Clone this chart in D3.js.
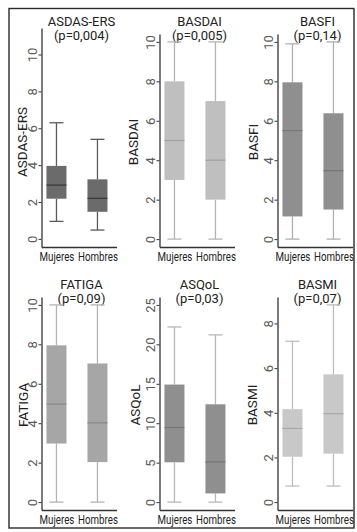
<!DOCTYPE html>
<html>
<head>
<meta charset="utf-8">
<script src="https://cdn.jsdelivr.net/npm/d3@7"></script>
<style>
  html, body { margin: 0; padding: 0; background: #fff; }
  svg { display: block; font-family: Roboto, "Open Sans", sans-serif; }
</style>
</head>
<body>
<svg id="chart" width="357" height="532"></svg>
<script>
// ---- data ----
const groups = ["Mujeres", "Hombres"];
const measures = ["ASDAS-ERS", "BASDAI", "BASFI", "FATIGA", "ASQoL", "BASMI"];
const pValues = ["(p=0,004)", "(p=0,005)", "(p=0,14)", "(p=0,09)", "(p=0,03)", "(p=0,07)"];

// five-number summaries per measure: [min, Q1, median, Q3, max]
const mujeresStats = [
  [0.95, 2.18, 2.92, 3.96, 6.3],
  [0, 3, 5, 8, 10],
  [0, 1.15, 5.5, 7.95, 9.9],
  [0, 2.97, 4.97, 7.95, 10],
  [0, 5.05, 9.45, 14.9, 22.2],
  [0.72, 2.03, 3.3, 4.16, 7.2]
];
const hombresStats = [
  [0.48, 1.47, 2.2, 3.23, 5.4],
  [0, 2, 4, 7, 10],
  [0, 1.5, 3.47, 6.38, 10],
  [0, 2.03, 4.02, 7.03, 10],
  [0, 1.1, 5.1, 12.4, 21.2],
  [0.72, 2.17, 3.96, 5.72, 8.83]
];

const yLimits = [[0, 11], [0, 10], [0, 10], [0, 10], [0, 25], [0, 8.83]];
const yTicks = [
  [0, 2, 4, 6, 8, 10],
  [0, 2, 4, 6, 8, 10],
  [0, 2, 4, 6, 8, 10],
  [0, 2, 4, 6, 8, 10],
  [0, 5, 10, 15, 20, 25],
  [0, 2, 4, 6, 8]
];

// ---- styling ----
const boxFill    = ["#6b6b6b", "#bfbfbf", "#8f8f8f", "#a6a6a6", "#8f8f8f", "#c8c8c8"];
const whiskerCol = ["#5a5a5a", "#b4b4b4", "#b0b0b0", "#b3b3b3", "#b8b8b8", "#bdbdbd"];
const medianCol  = ["#383838", "#a0a0a0", "#767676", "#888888", "#767676", "#a8a8a8"];
const ylabOffset = [15, 22, 20, 14, 20, 21];

// ---- layout ----
const colLeft = [41.5, 159.5, 277.5];
const rowShift = [0, 263];
const panelW = 75;
const plotBottom = 247;
const plotTop = [28, 34, 34, 34, 34, 34];
const boxW = 20, capW = 14;

const svg = d3.select("#chart");

// outer frame
svg.append("rect")
  .attr("x", 9).attr("y", 8.5).attr("width", 345).attr("height", 519.5)
  .attr("fill", "none").attr("stroke", "#2a2a2a").attr("stroke-width", 1.4);

measures.forEach((m, i) => {
  const col = i % 3, row = Math.floor(i / 3);
  const left = colLeft[col];
  const dy = rowShift[row];
  const bottom = plotBottom + dy;
  const top = plotTop[i] + dy;

  const lim = yLimits[i];
  const pad = (lim[1] - lim[0]) * 0.04;
  const y = d3.scaleLinear().domain([lim[0] - pad, lim[1] + pad]).range([bottom, top]);
  const x = d3.scalePoint().domain(groups).range([left, left + panelW])
    .padding(0.4146).align(0.44);

  const g = svg.append("g");

  // y axis
  const yAx = g.append("g")
    .attr("transform", `translate(${left},0)`)
    .call(d3.axisLeft(y).tickValues(yTicks[i]).tickSize(3).tickSizeOuter(0));
  yAx.select(".domain").attr("stroke", "#333").attr("stroke-width", 1.3);
  yAx.selectAll(".tick line").attr("stroke", "#333");
  yAx.selectAll(".tick text")
    .attr("x", null).attr("dy", null)
    .attr("transform", "translate(-4.5,0) rotate(-90)")
    .attr("text-anchor", "middle")
    .attr("fill", "#5a5a5a")
    .style("font-size", "13px")
    .style("font-family", "Roboto, sans-serif");

  // x axis
  const xAx = g.append("g")
    .attr("transform", `translate(0,${bottom})`)
    .call(d3.axisBottom(x).tickSize(0).tickSizeOuter(0));
  xAx.select(".domain").attr("stroke", "#333").attr("stroke-width", 1.3);
  xAx.selectAll(".tick text")
    .attr("y", null).attr("dy", null)
    .attr("transform", "translate(0,14) scale(0.78,1)")
    .attr("text-anchor", "middle")
    .attr("fill", "#222")
    .style("font-size", "12.5px")
    .style("font-family", "Roboto, sans-serif");

  // y axis title
  g.append("text")
    .attr("transform", `translate(${left - ylabOffset[i]},${dy + 142}) rotate(-90)`)
    .attr("text-anchor", "middle")
    .attr("fill", "#222")
    .style("font-size", "13.5px")
    .text(m);

  // panel title, two lines
  const title = g.append("text")
    .attr("text-anchor", "middle")
    .attr("fill", "#222")
    .style("font-size", "13px");
  title.append("tspan").attr("x", left + 40).attr("y", dy + 26).text(m);
  title.append("tspan").attr("x", left + 40).attr("y", dy + 39.5).text(pValues[i]);

  // boxes
  const stats = [mujeresStats[i], hombresStats[i]];
  groups.forEach((grp, k) => {
    const s = stats[k];
    const cx = x(grp);
    const bg = g.append("g");
    // whisker stems
    bg.append("line")
      .attr("x1", cx).attr("x2", cx).attr("y1", y(s[4])).attr("y2", y(s[3]))
      .attr("stroke", whiskerCol[i]).attr("stroke-width", 1.3);
    bg.append("line")
      .attr("x1", cx).attr("x2", cx).attr("y1", y(s[1])).attr("y2", y(s[0]))
      .attr("stroke", whiskerCol[i]).attr("stroke-width", 1.3);
    // caps
    [s[0], s[4]].forEach(v => {
      bg.append("line")
        .attr("x1", cx - capW / 2).attr("x2", cx + capW / 2)
        .attr("y1", y(v)).attr("y2", y(v))
        .attr("stroke", whiskerCol[i]).attr("stroke-width", 1.3);
    });
    // box
    bg.append("rect")
      .attr("x", cx - boxW / 2).attr("width", boxW)
      .attr("y", y(s[3])).attr("height", y(s[1]) - y(s[3]))
      .attr("fill", boxFill[i]);
    // median
    bg.append("line")
      .attr("x1", cx - boxW / 2).attr("x2", cx + boxW / 2)
      .attr("y1", y(s[2])).attr("y2", y(s[2]))
      .attr("stroke", medianCol[i]).attr("stroke-width", 1.2);
  });
});
</script>
</body>
</html>
